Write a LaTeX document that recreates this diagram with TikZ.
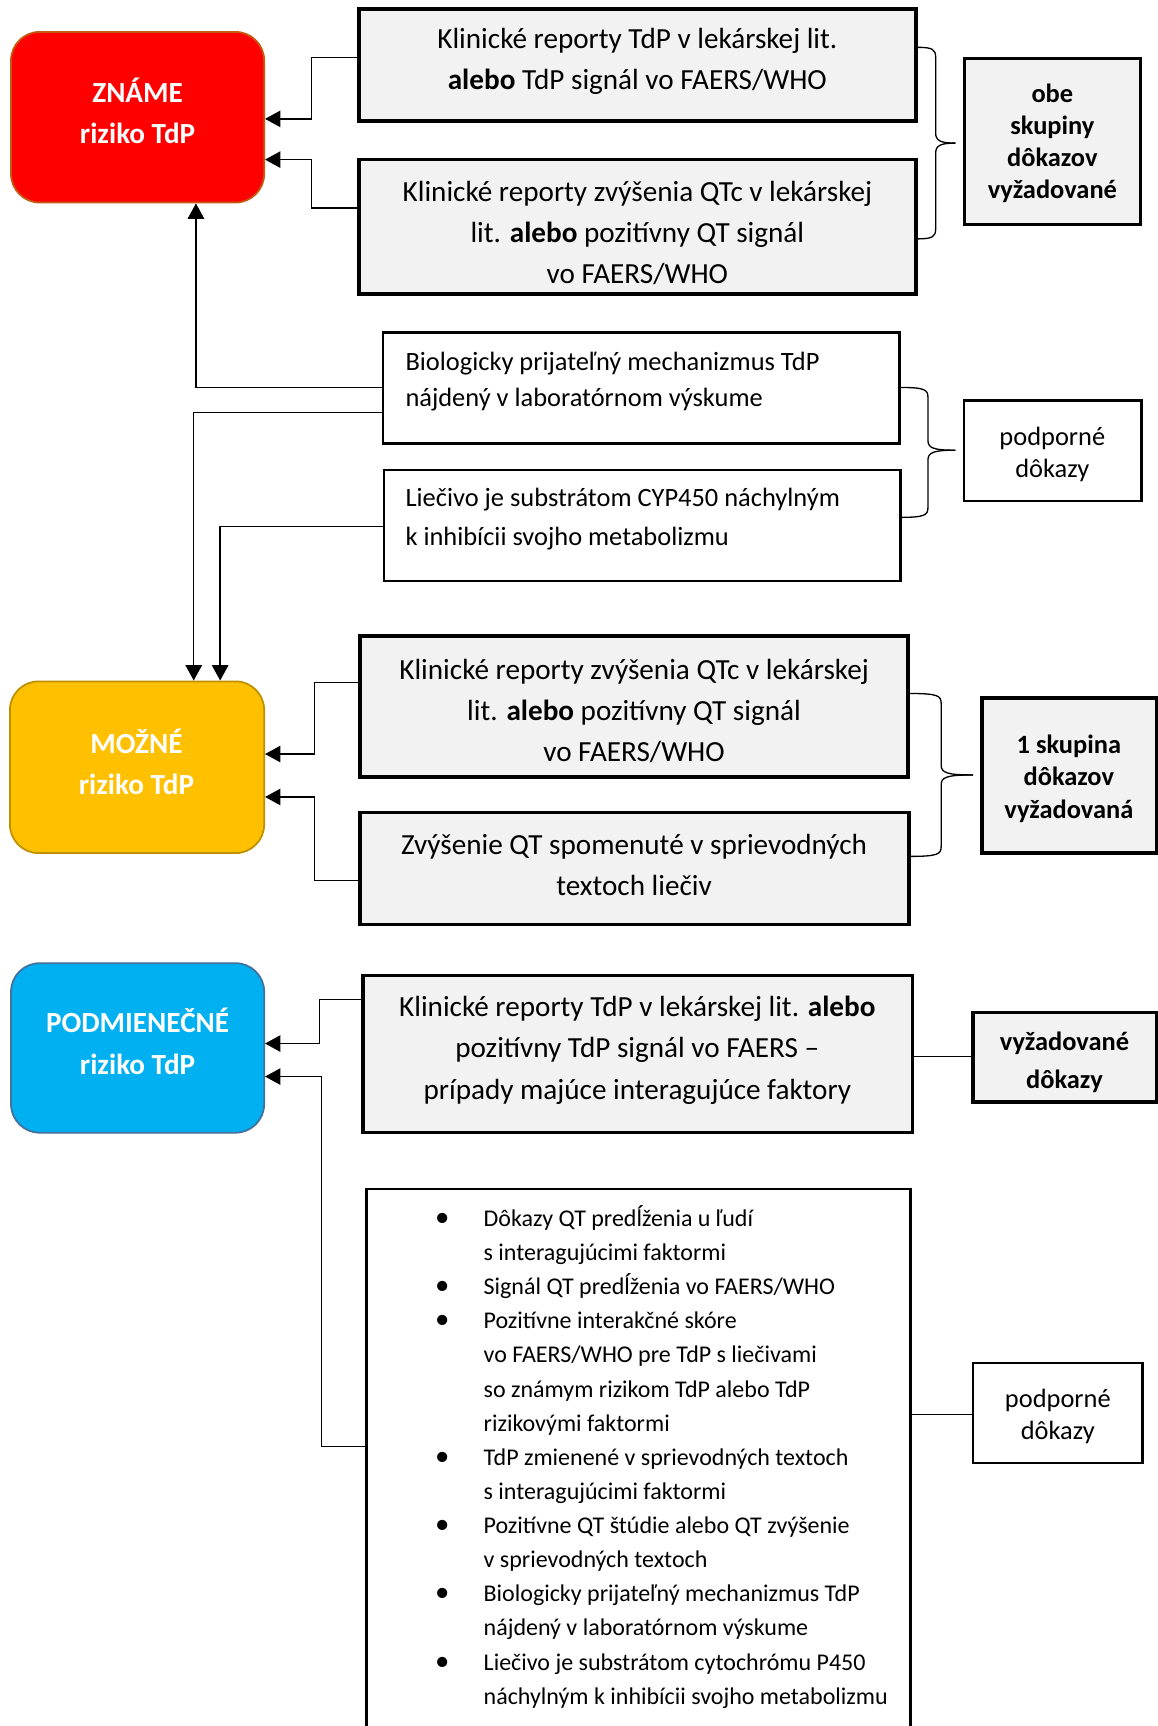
\documentclass[tikz,border=0pt]{standalone}
\usepackage{fontspec}
\setmainfont{Carlito}
\usetikzlibrary{arrows.meta,fit}
\definecolor{gfill}{HTML}{F2F2F2}
\definecolor{zred}{HTML}{FF0000}
\definecolor{zredb}{HTML}{C55A11}
\definecolor{myel}{HTML}{FFC000}
\definecolor{myelb}{HTML}{BF9000}
\definecolor{pblue}{HTML}{00B0F0}
\definecolor{pblueb}{HTML}{41719C}
\newcommand\bitem{\makebox[21.5pt][l]{\hspace*{-0.6pt}\scalebox{1.2}{\textbullet}}}
\newcommand\bcont{\hspace*{21.5pt}}
\newcommand\mybrace[6]{%
  \draw[conn] (#1,#4) .. controls ({#2-3},#4) and (#2,{#4+2}) .. (#2,{#4+9}) -- (#2,{#5-9})
     .. controls (#2,{#5-2}) and ({#2+5},#5) .. (#3,#5);
  \draw[conn] (#3,#5) .. controls ({#2+5},#5) and (#2,{#5+2}) .. (#2,{#5+9}) -- (#2,{#6-9})
     .. controls (#2,{#6-2}) and ({#2-3},#6) .. (#1,#6);}
\begin{document}
\begin{tikzpicture}[x=0.5pt,y=-0.5pt,
  riskbox/.style={rectangle, rounded corners=13pt, line width=0.8pt, inner sep=0pt},
  gbox/.style={rectangle, draw=black, fill=gfill, line width=1.6pt, inner sep=0pt},
  wbox/.style={rectangle, draw=black, fill=white, line width=1.1pt, inner sep=0pt},
  conn/.style={line width=0.6pt, draw=black},
  arr/.style={conn, -{Triangle[length=7pt,width=7.5pt]}},
  risktxt/.style={font=\fontsize{13.25}{18.75}\selectfont\bfseries, text=white, align=center, inner sep=0pt, yshift=1pt},
  bigtxt/.style={font=\fontsize{13.25}{18.75}\selectfont, align=center, inner sep=0pt, yshift=-1pt},
  midtxt/.style={font=\fontsize{12}{16.5}\selectfont, align=left, inner sep=0pt, anchor=west, yshift=-1pt},
  smtxt/.style={font=\fontsize{12}{14.5}\selectfont, align=center, inner sep=0pt, yshift=-1pt},
  listtxt/.style={font=\fontsize{10.9}{15.5}\selectfont, align=left, inner sep=0pt, anchor=west}
]
\clip (0,0) rectangle (1052,1568);
\fill[white] (0,0) rectangle (1052,1568);

% risk boxes
\node[riskbox, fill=zred, draw=zredb, fit={(10,29) (240,184)}] (zname) {};
\node[riskbox, fill=myel, draw=myelb, fit={(9,619) (240,775)}] (mozne) {};
\node[riskbox, fill=pblue, draw=pblueb, fit={(10,875) (240,1029)}] (podm) {};
\node[risktxt] (znamet) at (125,102.5) {ZNÁME\\riziko TdP};
\node[risktxt] (moznet) at (124,694) {MOŽNÉ\\riziko TdP};
\node[risktxt] (podmt) at (125,948) {PODMIENEČNÉ\\riziko TdP};

% evidence boxes
\node[gbox, fit={(326,8) (832,110)}] (k1) {};
\node[gbox, fit={(326,145) (832,267)}] (k2) {};
\node[gbox, fit={(876,53) (1036,204)}] (obe) {};
\node[wbox, fit={(348,302) (817,403)}] (b1) {};
\node[wbox, fit={(349,427) (818,528)}] (b2) {};
\node[wbox, fit={(876,364) (1037,455)}] (pod1) {};
\node[gbox, fit={(327,578) (825,706)}] (m1) {};
\node[gbox, fit={(327,738) (826,840)}] (m2) {};
\node[gbox, fit={(892,634) (1051,775)}] (skup) {};
\node[gbox, fit={(330,886) (829,1029)}] (p1) {};
\node[gbox, fit={(884,920) (1051,1001)}] (vyz) {};
\node[wbox, fit={(333,1080) (827,1700)}] (p2) {};
\node[wbox, fit={(884,1238) (1038,1329)}] (pod2) {};

% texts
\node[bigtxt] (k1t) at (579,54) {Klinické reporty TdP v lekárskej lit.\\\textbf{alebo} TdP signál vo FAERS/WHO};
\node[bigtxt] (k2t) at (579,209.5) {Klinické reporty zvýšenia QTc v lekárskej\\lit. \textbf{alebo} pozitívny QT signál\\vo FAERS/WHO};
\node[smtxt, font=\fontsize{12}{14.5}\selectfont\bfseries] (obet) at (956,128.5) {obe\\skupiny\\dôkazov\\vyžadované};
\node[midtxt] (b1t) at (368,344.5) {Biologicky prijateľný mechanizmus TdP\\nájdený v laboratórnom výskume};
\node[midtxt, font=\fontsize{12}{17.5}\selectfont] (b2t) at (368,469.5) {Liečivo je substrátom CYP450 náchylným\\k inhibícii svojho metabolizmu};
\node[smtxt] (pod1t) at (956,410.5) {podporné\\dôkazy};
\node[bigtxt] (m1t) at (576,644) {Klinické reporty zvýšenia QTc v lekárskej\\lit. \textbf{alebo} pozitívny QT signál\\vo FAERS/WHO};
\node[bigtxt] (m2t) at (576,783.5) {Zvýšenie QT spomenuté v sprievodných\\textoch liečiv};
\node[smtxt, font=\fontsize{12}{14.75}\selectfont\bfseries] (skupt) at (971,705.5) {1 skupina\\dôkazov\\vyžadovaná};
\node[bigtxt] (p1t) at (579,952) {Klinické reporty TdP v lekárskej lit. \textbf{alebo}\\pozitívny TdP signál vo FAERS –\\prípady majúce interagujúce faktory};
\node[smtxt, font=\fontsize{12}{17}\selectfont\bfseries] (vyzt) at (967,963) {vyžadované\\dôkazy};
\node[smtxt] (pod2t) at (961,1284.5) {podporné\\dôkazy};
\node[listtxt] (p2t) at (396,1323.5) {%
\bitem Dôkazy QT predĺženia u ľudí\\
\bcont s interagujúcimi faktormi\\
\bitem Signál QT predĺženia vo FAERS/WHO\\
\bitem Pozitívne interakčné skóre\\
\bcont vo FAERS/WHO pre TdP s liečivami\\
\bcont so známym rizikom TdP alebo TdP\\
\bcont rizikovými faktormi\\
\bitem TdP zmienené v sprievodných textoch\\
\bcont s interagujúcimi faktormi\\
\bitem Pozitívne QT štúdie alebo QT zvýšenie\\
\bcont v sprievodných textoch\\
\bitem Biologicky prijateľný mechanizmus TdP\\
\bcont nájdený v laboratórnom výskume\\
\bitem Liečivo je substrátom cytochrómu P450\\
\bcont náchylným k inhibícii svojho metabolizmu};

% connectors
\draw[arr] (k1.west |- 0,52) -- (283,52) |- (zname.east |- 0,108);
\draw[arr] (k2.west |- 0,189) -- (283,189) |- (zname.east |- 0,145);
\draw[arr] (b1.west |- 0,352) -| (zname.south -| 178,0);
\draw[arr] (b1.west |- 0,375) -| (mozne.north -| 176,0);
\draw[arr] (b2.west |- 0,478) -| (mozne.north -| 200,0);
\draw[arr] (m1.west |- 0,620) -- (286,620) |- (mozne.east |- 0,685);
\draw[arr] (m2.west |- 0,800) -- (286,800) |- (mozne.east |- 0,724);
\draw[arr] (p1.west |- 0,908) -- (290,908) |- (podm.east |- 0,948);
\draw[arr] (p2.west |- 0,1314) -- (292,1314) |- (podm.east |- 0,978);
\draw[conn] (p1.east |- 0,960) -- (vyz.west |- 0,960);
\draw[conn] (p2.east |- 0,1285) -- (pod2.west |- 0,1285);

% braces
\mybrace{834}{850}{868}{43}{130}{217}
\mybrace{818}{843}{868}{352}{409}{470}
\mybrace{826}{855}{884}{630}{704}{778}
\end{tikzpicture}
\end{document}
